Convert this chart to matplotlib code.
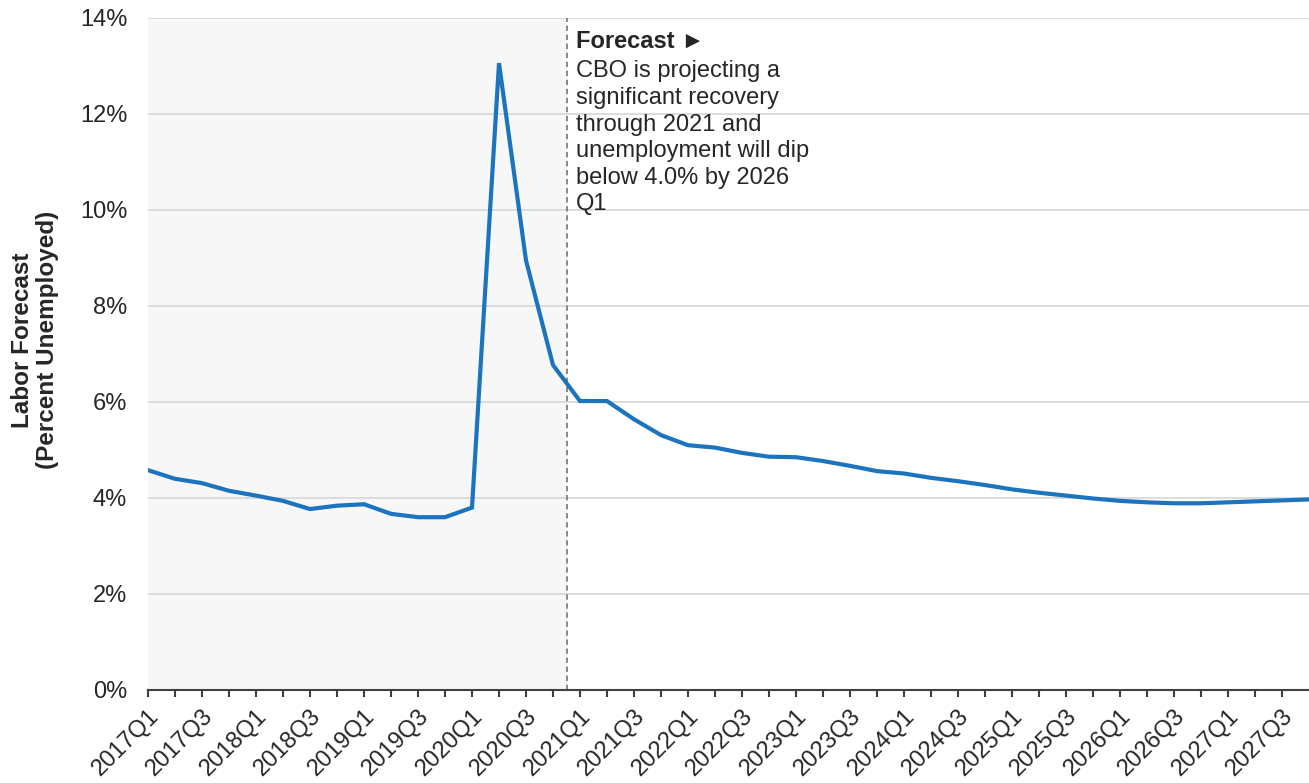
import matplotlib
matplotlib.use("Agg")
import matplotlib.pyplot as plt
from matplotlib.ticker import FuncFormatter

plt.rcParams["font.family"] = ["Liberation Sans", "DejaVu Sans"]

# quarterly unemployment rate, actuals then CBO projection
quarters = [f"{y}Q{q}" for y in range(2017, 2028) for q in range(1, 5)]
unemp = [
    4.58, 4.40, 4.31, 4.15, 4.05, 3.94, 3.77, 3.84, 3.87, 3.67, 3.60, 3.60,
    3.80, 13.06, 8.95, 6.77, 6.02, 6.02, 5.64, 5.31, 5.10, 5.05, 4.94, 4.86,
    4.85, 4.77, 4.67, 4.56, 4.51, 4.42, 4.35, 4.27, 4.18, 4.11, 4.05, 3.99,
    3.94, 3.91, 3.89, 3.89, 3.91, 3.93, 3.95, 3.97,
]
forecast_start = 15.5  # between 2020Q4 and 2021Q1

txt_col = "#262626"
line_col = "#1b74bd"

fig = plt.figure(figsize=(13.09, 7.83), dpi=100)
ax = fig.add_axes([148 / 1309, 1 - 690 / 783, 1161 / 1309, 672 / 783])

x = list(range(len(quarters)))
ax.axvspan(0, forecast_start, color="#f7f7f7", zorder=0, lw=0)
ax.axvline(forecast_start, color="#7f7f7f", ls=(0, (3, 2)), lw=1.3, zorder=2)
ax.plot(x, unemp, color=line_col, lw=3.0, zorder=3, solid_joinstyle="miter")

ax.set_xlim(0, len(quarters) - 1)
ax.set_ylim(0, 14)
ax.set_yticks(range(0, 15, 2))
ax.yaxis.set_major_formatter(FuncFormatter(lambda v, p: f"{v:.0f}%"))
ax.grid(axis="y", color="#d9d9d9", lw=1.3, zorder=1)
ax.set_axisbelow(True)

ax.set_xticks(x[:-1])
ax.set_xticklabels([q if i % 2 == 0 else "" for i, q in enumerate(quarters[:-1])],
                   rotation=45, ha="right", va="top", rotation_mode="anchor")

for s in ["top", "right", "left"]:
    ax.spines[s].set_visible(False)
ax.spines["bottom"].set_color("#404040")
ax.spines["bottom"].set_linewidth(1.5)
ax.tick_params(axis="x", length=5, width=1.5, color="#404040", pad=6,
               labelsize=17, labelcolor=txt_col)
ax.tick_params(axis="y", length=0, pad=15, labelsize=17, labelcolor=txt_col)

fig.text(35 / 1309, 1 - 340 / 783, "Labor Forecast\n(Percent Unemployed)",
         rotation=90, ha="center", va="center", fontsize=17.5,
         fontweight="bold", color=txt_col, linespacing=1.1)

ax.annotate("Forecast \u25BA", xy=(forecast_start, 14), xytext=(7, -8.5),
            textcoords="offset points", ha="left", va="top", fontsize=17,
            fontweight="bold", color=txt_col)
ax.annotate("CBO is projecting a\nsignificant recovery\nthrough 2021 and\n"
            "unemployment will dip\nbelow 4.0% by 2026\nQ1",
            xy=(forecast_start, 14), xytext=(7, -30.5),
            textcoords="offset points", ha="left", va="top", fontsize=17,
            color=txt_col, linespacing=1.27)

fig.savefig("out.png", dpi=100)
